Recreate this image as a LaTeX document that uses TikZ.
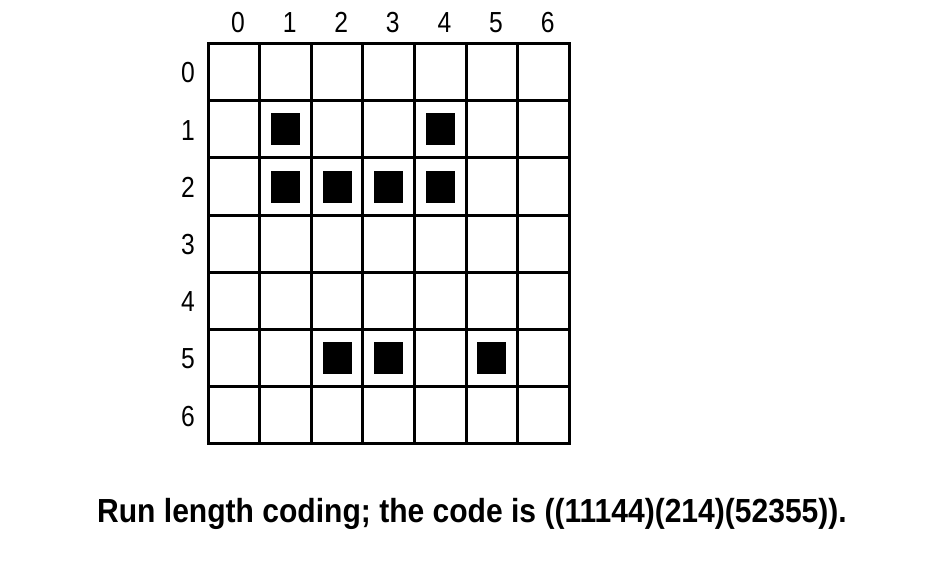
\documentclass[tikz,border=0pt]{standalone}
\usepackage{fontspec}
\setmainfont{Liberation Sans}
\newfontfamily\narrowfont[FakeStretch=0.85]{Liberation Sans}
\newfontfamily\captionfont[FakeStretch=0.9]{Liberation Sans Bold}
\usetikzlibrary{positioning}

\begin{document}
\begin{tikzpicture}[
x=0.02cm,y=-0.02cm,
cell/.style={draw,line width=1.7pt,minimum width=1.032cm,minimum height=1.144cm,inner sep=0pt},
blk/.style={fill=black,minimum width=0.58cm,minimum height=0.64cm,inner sep=0pt},
idx/.style={font=\narrowfont\fontsize{16.5}{16.5}\selectfont,inner sep=0pt},
]
	\useasboundingbox (0,0) rectangle (952,576);
	% grid
	\foreach \r in {0,...,6}
		\foreach \c in {0,...,6}
			\node[cell] (c\r\c) at ({233.8+51.6*\c},{72.1+57.2*\r}) {};
	% filled cells
	\foreach \r/\c in {1/1,1/4,2/1,2/2,2/3,2/4,5/2,5/3,5/5}
		\node[blk] (b\r\c) at (c\r\c) {};
	% column and row numbers
	\foreach \c in {0,...,6}
		\node[idx,anchor=base] (col\c) at ({238+51.6*\c},32) {\c};
	\foreach \r in {0,...,6}
		\node[idx] (row\r) at (188,{73+57.2*\r}) {\r};
	\node[anchor=base,inner sep=0pt,font=\captionfont\fontsize{19}{19}\selectfont] (caption) at (472,522)
		{Run length coding; the code is ((11144)(214)(52355)).};
\end{tikzpicture}
\end{document}
